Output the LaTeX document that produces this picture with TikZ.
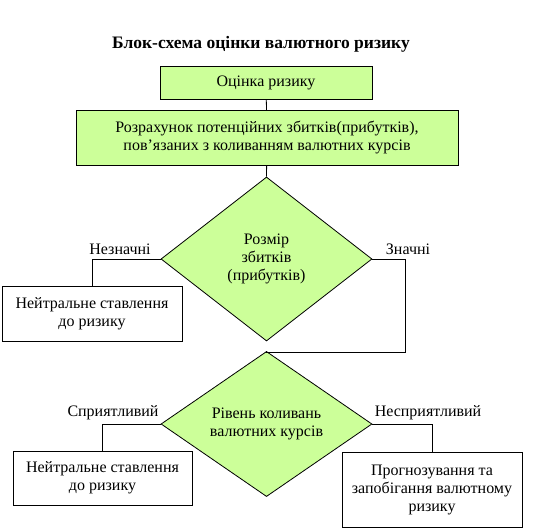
\documentclass[tikz,border=0pt]{standalone}
\usepackage{fontspec}
\setmainfont{Liberation Serif}
\usetikzlibrary{shapes.geometric}
\definecolor{boxgreen}{RGB}{204,255,153}
\begin{document}
\begin{tikzpicture}[x=1pt,y=-1pt,
  every node/.style={font=\fontsize{16}{18}\selectfont},
  gbox/.style={draw,fill=boxgreen,line width=0.8pt,inner sep=0pt,align=center},
  wbox/.style={draw,fill=white,line width=0.8pt,inner sep=0pt,align=center},
  gdia/.style={draw,fill=boxgreen,line width=0.8pt,diamond,inner sep=0pt,align=center},
  conn/.style={line width=0.8pt},
  lbl/.style={inner sep=0pt}]
\useasboundingbox (0,0) rectangle (545,529);
\node[font=\fontsize{17.5}{20}\selectfont\bfseries] (title) at (261,44) {Блок-схема оцінки валютного ризику};
\node[gbox,minimum width=212pt,minimum height=33pt] (b1) at (266,83) {Оцінка ризику};
\node[gbox,minimum width=382pt,minimum height=55pt] (b2) at (267,138) {Розрахунок потенційних збитків(прибутків),\\ пов’язаних з коливанням валютних курсів};
\node[gdia,minimum width=211pt,minimum height=164pt] (d1) at (266.5,259) {Розмір\\збитків\\(прибутків)};
\node[wbox,minimum width=180pt,minimum height=55pt] (b3) at (92,313.5) {Нейтральне ставлення\\до ризику};
\coordinate (k) at (405,352);
\node[gdia,minimum width=211pt,minimum height=120pt] (d2) at (266.5,424) {Рівень коливань\\валютних курсів};
\node[wbox,minimum width=179pt,minimum height=54pt] (b4) at (102.5,478) {Нейтральне ставлення\\до ризику};
\node[wbox,minimum width=180pt,minimum height=75pt] (b5) at (432,489.5) {Прогнозування та\\запобігання валютному\\ризику};
\node[lbl] (l1) at (120,249) {Незначні};
\node[lbl] (l2) at (408,249) {Значні};
\node[lbl] (l3) at (113,413) {Сприятливий};
\node[lbl] (l4) at (428,413) {Несприятливий};
\draw[conn] (b1) -- (b2);
\draw[conn] (b2) -- (d1.north);
\draw[conn] (d1.west) -| (b3.north);
\draw[conn] (d1.east) -| (k) -| (d2.north);
\draw[conn] (d2.west) -| (b4.north);
\draw[conn] (d2.east) -| (b5.north);
\end{tikzpicture}
\end{document}
